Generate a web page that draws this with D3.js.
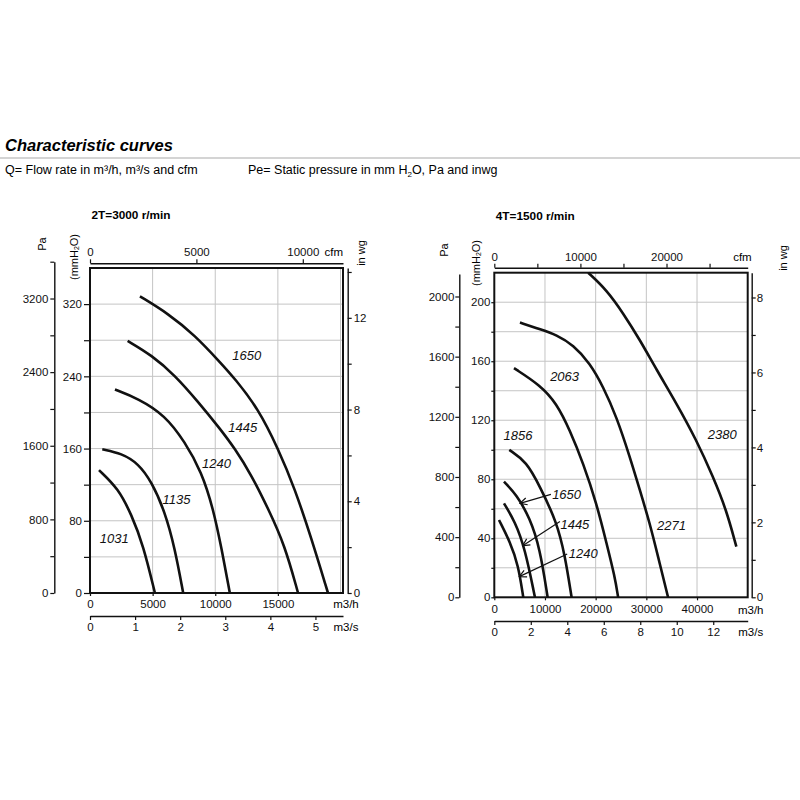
<!DOCTYPE html>
<meta charset="utf-8">
<script src="https://d3js.org/d3.v7.min.js"></script>
<style>
  body { margin: 0; background: #fff; }
</style>
<div id="chart"></div>
<script>

var width = 800, height = 800;
var font = "'Liberation Sans', Arial, Helvetica, sans-serif";

// ---------------- data: [m3/h, mmH2O] ----------------

// 2T = 3000 r/min
var c2_1650 = [[3987,328.6],[6244,309.5],[8373,285.5],[10366,255.9],[11562,237.6],[13420,204.4],[15015,160.1],[16347,115.8],[17679,60.5],[19002,0]];
var c2_1445 = [[3006,279.2],[4920,263.4],[6778,241.2],[8636,211.7],[10366,182.2],[11562,160.1],[12894,130.5],[14218,93.7],[15550,53.1],[16611,0]];
var c2_1240 = [[1994,225.4],[3851,215.4],[5981,197],[7575,167.4],[8907,134.2],[9832,93.7],[10502,49.5],[11164,0]];
var c2_1135 = [[981,159.3],[2528,154.6],[3851,143.5],[4920,123.2],[5981,90],[6778,49.5],[7440,0]];
var c2_1031 = [[718,136.1],[2257,115.8],[3325,86.3],[4250,53.1],[5183,0]];

var curves2T = [c2_1650, c2_1445, c2_1240, c2_1135, c2_1031];
var labels2T = [
  {t:"1650", q:12519, p:263.3},
  {t:"1445", q:12200, p:183.7},
  {t:"1240", q:10103, p:143.5},
  {t:"1135", q:6914,  p:103.7},
  {t:"1031", q:1930,  p:60.5}
];

// 4T = 1500 r/min
var c4_2380 = [[18522,220],[22147,208.4],[25418,192.6],[28709,174.6],[32000,154.3],[35940,131.5],[39881,106.6],[43152,81.8],[45792,59.2],[47763,34.3]];
var c4_2271 = [[5064,186.2],[9005,181.7],[12295,177.8],[15566,171],[18857,158.7],[21477,142.8],[24118,122.4],[26738,95.3],[28709,72.8],[30680,50.2],[32315,27.5],[34285,0]];
var c4_2063 = [[3882,155.3],[9005,143.9],[12295,131.5],[14916,113.2],[17537,90.9],[20177,63.7],[22148,36.6],[23783,14],[24433,0]];
var c4_1856 = [[2956,99.9],[6384,91.9],[9005,75],[12295,51.3],[13931,28.7],[15251,0]];
var c4_1650 = [[1911,78.4],[4414,69.4],[7034,53.6],[9005,33.2],[10522,0]];
var c4_1445 = [[1911,63.7],[4079,51.3],[6049,33.2],[8020,0]];
var c4_1240 = [[926,52.4],[3094,37.7],[4729,21.9],[5714,0]];

var curves4T = [c4_2380, c4_2271, c4_2063, c4_1856, c4_1650, c4_1445, c4_1240];
var labels4T = [
  {t:"2380", q:44967, p:110.1},
  {t:"2271", q:34955, p:49},
  {t:"2063", q:13872, p:149.6},
  {t:"1856", q:4670,  p:110},
  {t:"1650", q:14266, p:69.8},
  {t:"1445", q:15901, p:49.5},
  {t:"1240", q:17537, p:29.4}
];
var leaders4T = [
  {from:[11172,69.8], to:[5064,63.7]},
  {from:[12945,51.3], to:[5596,35]},
  {from:[14384,29.4], to:[4926,14]}
];

// tick values
var q2T = [0, 5000, 10000, 15000];
var q4T = [0, 10000, 20000, 30000, 40000];

// ---------------------------------------------------------

var svg = d3.select("#chart")
  .append("svg")
  .attr("width", width)
  .attr("height", height)
  .style("background", "#fff");

svg.append("defs").append("marker")
  .attr("id", "arrow")
  .attr("markerUnits", "userSpaceOnUse")
  .attr("viewBox", "-9 -5 10 10")
  .attr("refX", 0)
  .attr("refY", 0)
  .attr("markerWidth", 10)
  .attr("markerHeight", 10)
  .attr("orient", "auto")
  .append("path")
  .attr("d", "M-7,-3.5 L0,0 L-7,3.5")
  .style("fill", "none")
  .style("stroke", "#111")
  .style("stroke-width", 1.2);

// header
svg.append("text")
  .text("Characteristic curves")
  .attr("x", 5)
  .attr("y", 151)
  .style("font", "italic bold 16.5px " + font);

svg.append("line")
  .attr("x1", 0).attr("x2", 800)
  .attr("y1", 158).attr("y2", 158)
  .style("stroke", "#aaa")
  .style("stroke-width", 1.2);

svg.append("text")
  .attr("x", 5)
  .attr("y", 174)
  .style("font", "12.5px " + font)
  .text("Q= Flow rate in m³/h, m³/s and cfm");

var pe = svg.append("text")
  .attr("x", 248)
  .attr("y", 174)
  .style("font", "12.5px " + font);
pe.append("tspan").text("Pe= Static pressure in mm H");
pe.append("tspan").text("2").attr("dy", 3).style("font-size", "8px");
pe.append("tspan").text("O, Pa and inwg").attr("dy", -3);

function styleAxis(sel) {
  sel.selectAll("text")
    .style("font-size", "11.5px")
    .style("font-family", font)
    .style("fill", "#111");
  sel.selectAll("line").style("stroke", "#111").style("stroke-width", 1.2);
  sel.selectAll("path.domain").style("stroke", "#111").style("stroke-width", 1.4);
}

function labelEvery(step) {
  return function(d) { return (Math.abs(d % step) < 1e-9) ? String(d) : ""; };
}

function rotText(x, y, parts) {
  var t = svg.append("text")
    .attr("transform", "translate(" + x + "," + y + ") rotate(-90)")
    .attr("text-anchor", "middle")
    .attr("dominant-baseline", "central")
    .style("font", "11px " + font);
  parts.forEach(function(p) {
    var s = t.append("tspan").text(p.t);
    if (p.sub) s.style("font-size", "7px").attr("dy", 2);
    if (p.up) s.attr("dy", -2);
  });
}

function drawChart(o) {
  var g = svg.append("g");

  var x = d3.scaleLinear().domain([0, o.qMax]).range([o.left, o.right]);
  var y = d3.scaleLinear().domain([0, o.pMax]).range([o.bottom, o.top]);
  var xs = d3.scaleLinear().domain([0, o.qMax / 3600]).range([o.left, o.right]);
  var xc = d3.scaleLinear().domain([0, o.qMax / 1.699]).range([o.left, o.right]);
  var yPa = d3.scaleLinear().domain([0, o.paTop]).range([o.bottom, y(o.paTop / 9.81)]);
  var yIn = d3.scaleLinear().domain([0, o.pMax / 25.4]).range([o.bottom, o.top]);

  // title
  svg.append("text")
    .text(o.title)
    .attr("x", o.left + 1.5)
    .attr("y", o.titleY)
    .style("font", "bold 11.8px " + font);

  // grid
  g.append("g").selectAll("line")
    .data(d3.range(o.qGrid, o.qMax - 1, o.qGrid))
    .join("line")
    .attr("x1", function(d) { return x(d); })
    .attr("x2", function(d) { return x(d); })
    .attr("y1", o.top).attr("y2", o.bottom)
    .style("stroke", "#c4c4c4").style("stroke-width", 1);

  g.append("g").selectAll("line")
    .data(d3.range(o.pGrid, o.pMax - 1, o.pGrid))
    .join("line")
    .attr("y1", function(d) { return y(d); })
    .attr("y2", function(d) { return y(d); })
    .attr("x1", o.left).attr("x2", o.right)
    .style("stroke", "#c4c4c4").style("stroke-width", 1);

  // curves
  var line = d3.line()
    .x(function(d) { return x(d[0]); })
    .y(function(d) { return y(d[1]); })
    .curve(d3.curveBasis);

  g.append("g").selectAll("path")
    .data(o.curves)
    .join("path")
    .attr("d", line)
    .style("fill", "none")
    .style("stroke", "#111")
    .style("stroke-width", 2.6)
    .style("stroke-linecap", "butt");

  // border
  g.append("rect")
    .attr("x", o.left).attr("y", o.top)
    .attr("width", o.right - o.left)
    .attr("height", o.bottom - o.top)
    .style("fill", "none")
    .style("stroke", "#111")
    .style("stroke-width", 2);

  // curve labels
  g.append("g").selectAll("text")
    .data(o.labels)
    .join("text")
    .attr("x", function(d) { return x(d.q); })
    .attr("y", function(d) { return y(d.p); })
    .attr("text-anchor", "middle")
    .attr("dominant-baseline", "central")
    .style("font", "italic 13px " + font)
    .style("fill", "#111")
    .text(function(d) { return d.t; });

  g.append("g").selectAll("line")
    .data(o.leaders)
    .join("line")
    .attr("x1", function(d) { return x(d.from[0]); })
    .attr("y1", function(d) { return y(d.from[1]); })
    .attr("x2", function(d) { return x(d.to[0]); })
    .attr("y2", function(d) { return y(d.to[1]); })
    .attr("marker-end", "url(#arrow)")
    .style("stroke", "#111")
    .style("stroke-width", 1.2);

  // Pa axis
  g.append("g")
    .attr("transform", "translate(" + o.paX + ",0)")
    .call(d3.axisLeft(yPa)
      .tickValues(d3.range(0, o.paTop + 1, o.paStep))
      .tickFormat(labelEvery(o.paLabel))
      .tickSize(4).tickSizeOuter(0).tickPadding(o.paPad))
    .call(styleAxis);

  // mmH2O axis
  var mm = g.append("g")
    .attr("transform", "translate(" + o.left + ",0)")
    .call(d3.axisLeft(y)
      .tickValues(d3.range(0, o.pMax, o.pGrid))
      .tickFormat(labelEvery(o.pLabel))
      .tickSize(o.mmTick).tickSizeOuter(0).tickPadding(o.mmPad))
    .call(styleAxis);
  mm.select("path.domain").remove();

  // in wg axis
  g.append("g")
    .attr("transform", "translate(" + o.inX + ",0)")
    .call(d3.axisRight(yIn)
      .tickValues(d3.range(0, o.pMax / 25.4, o.inStep))
      .tickFormat(labelEvery(o.inLabel))
      .tickSize(4).tickSizeOuter(0).tickPadding(o.inPad))
    .call(styleAxis);

  // cfm axis
  g.append("g")
    .attr("transform", "translate(0," + o.cfmY + ")")
    .call(d3.axisTop(xc)
      .tickValues(o.cfmTicks)
      .tickFormat(labelEvery(o.cfmLabel))
      .tickSize(4).tickSizeOuter(0).tickPadding(3))
    .call(styleAxis);

  // m3/h axis
  var mh = g.append("g")
    .attr("transform", "translate(0," + o.bottom + ")")
    .call(d3.axisBottom(x)
      .tickValues(o.qTicks)
      .tickFormat(d3.format("d"))
      .tickSize(3).tickSizeOuter(0).tickPadding(o.mhPad))
    .call(styleAxis);
  mh.select("path.domain").remove();

  // m3/s axis
  g.append("g")
    .attr("transform", "translate(0," + o.msY + ")")
    .call(d3.axisBottom(xs)
      .tickValues(d3.range(0, o.qMax / 3600, o.msStep))
      .tickFormat(d3.format("d"))
      .tickSize(4).tickSizeOuter(0).tickPadding(3))
    .call(styleAxis);

  // unit labels
  svg.append("text").text("cfm")
    .attr("x", o.right + o.cfmDx).attr("y", o.cfmY - 7)
    .attr("text-anchor", "end")
    .style("font", "11.5px " + font);
  svg.append("text").text("m3/h")
    .attr("x", o.right + 3).attr("y", o.bottom + o.mhPad + 3 + 8.2)
    .attr("text-anchor", "middle")
    .style("font", "11.5px " + font);
  svg.append("text").text("m3/s")
    .attr("x", o.right + 3).attr("y", o.msY + 7 + 8.2)
    .attr("text-anchor", "middle")
    .style("font", "11.5px " + font);

  rotText(o.paLab[0], o.paLab[1], [{t:"Pa"}]);
  rotText(o.mmLab[0], o.mmLab[1], [{t:"(mmH"}, {t:"2", sub:true}, {t:"O)", up:true}]);
  rotText(o.inLab[0], o.inLab[1], [{t:"in wg"}]);
}

drawChart({
  title: "2T=3000 r/min", titleY: 219,
  left: 90, right: 343, top: 268, bottom: 593,
  qMax: 20200, pMax: 360,
  qGrid: 5000, pGrid: 40, pLabel: 80,
  qTicks: q2T, mhPad: 4,
  paX: 54.3, paTop: 3600, paStep: 400, paLabel: 800, paPad: 2,
  mmTick: 6, mmPad: 2,
  inX: 347.7, inStep: 2, inLabel: 4, inPad: 2,
  cfmY: 263.3, cfmTicks: [0, 5000, 10000], cfmLabel: 5000, cfmDx: 0,
  msY: 616, msStep: 1,
  paLab: [41.5, 244], mmLab: [74, 257], inLab: [361, 253],
  curves: curves2T, labels: labels2T, leaders: []
});

drawChart({
  title: "4T=1500 r/min", titleY: 220,
  left: 494.3, right: 747.7, top: 272.7, bottom: 597.3,
  qMax: 50000, pMax: 220,
  qGrid: 10000, pGrid: 20, pLabel: 40,
  qTicks: q4T, mhPad: 5,
  paX: 459.3, paTop: 2150, paStep: 200, paLabel: 400, paPad: 1,
  mmTick: 3, mmPad: 1,
  inX: 751.7, inStep: 1, inLabel: 2, inPad: 1,
  cfmY: 267.7, cfmTicks: [0, 5000, 10000, 15000, 20000, 25000], cfmLabel: 10000, cfmDx: 4,
  msY: 621, msStep: 2,
  paLab: [443.5, 250], mmLab: [476, 263], inLab: [783, 258],
  curves: curves4T, labels: labels4T, leaders: leaders4T
});

</script>
